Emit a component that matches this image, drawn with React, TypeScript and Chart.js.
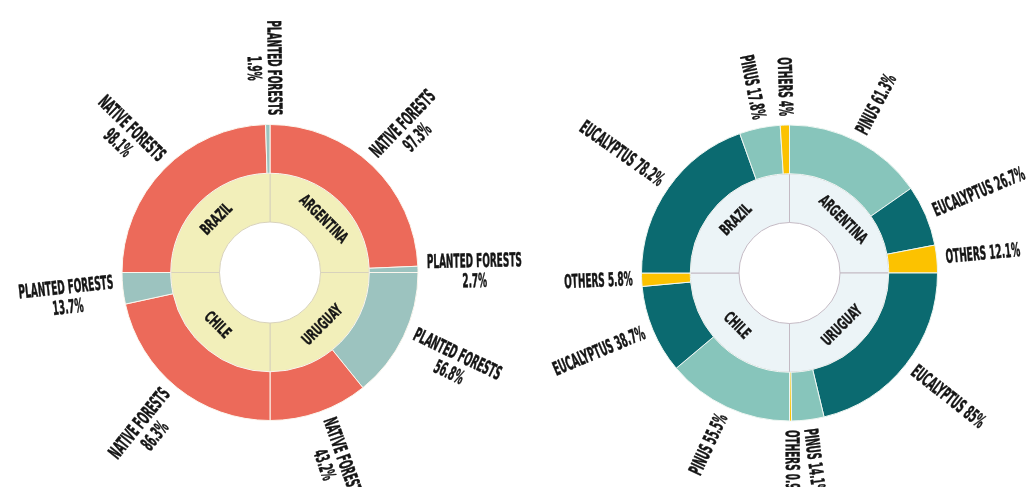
import { useEffect, useRef } from "react";
import { Chart, registerables } from "chart.js";

Chart.register(...registerables);

// Countries, clockwise from 12 o'clock
const countries = ["ARGENTINA", "URUGUAY", "CHILE", "BRAZIL"];

// Forest cover: share of each country's forest area (%)
const coverCountry = ["ARGENTINA", "ARGENTINA", "URUGUAY", "URUGUAY", "CHILE", "CHILE", "BRAZIL", "BRAZIL"];
const coverType = [
  "NATIVE FORESTS", "PLANTED FORESTS",
  "PLANTED FORESTS", "NATIVE FORESTS",
  "NATIVE FORESTS", "PLANTED FORESTS",
  "NATIVE FORESTS", "PLANTED FORESTS",
];
const coverShare = [97.3, 2.7, 56.8, 43.2, 86.3, 13.7, 98.1, 1.9];

// Planted forests by genus: share of each country's plantations (%)
const speciesCountry = [
  "ARGENTINA", "ARGENTINA", "ARGENTINA",
  "URUGUAY", "URUGUAY", "URUGUAY",
  "CHILE", "CHILE", "CHILE",
  "BRAZIL", "BRAZIL", "BRAZIL",
];
const speciesType = [
  "PINUS", "EUCALYPTUS", "OTHERS",
  "EUCALYPTUS", "PINUS", "OTHERS",
  "PINUS", "EUCALYPTUS", "OTHERS",
  "EUCALYPTUS", "PINUS", "OTHERS",
];
const speciesShare = [61.3, 26.7, 12.1, 85, 14.1, 0.9, 55.5, 38.7, 5.8, 78.2, 17.8, 4];

const coverColors: Record<string, string> = {
  "NATIVE FORESTS": "#EC6A5A",
  "PLANTED FORESTS": "#9CC3BF",
};
const speciesColors: Record<string, string> = {
  EUCALYPTUS: "#0B6A70",
  PINUS: "#87C5BB",
  OTHERS: "#FCC200",
};

const LABEL_FONT = '"Liberation Sans Narrow", "DejaVu Sans Condensed", "Roboto", sans-serif';
const TEXT_COLOR = "#151515";
const OUTER_R = 148;
const HOLE_R = 50.5;

// Each country gets an equal quarter; its segments split that quarter by share.
function normalise(owner: string[], share: number[]) {
  const totals: Record<string, number> = {};
  owner.forEach((c, i) => (totals[c] = (totals[c] || 0) + share[i]));
  return share.map((v, i) => (v / totals[owner[i]]) * (100 / countries.length));
}

type SunburstSpec = {
  owner: string[];
  types: string[];
  shares: number[];
  colors: Record<string, string>;
  innerFill: string;
  innerBorder: string;
  outerBorder: string;
  twoLine: boolean;
  padding: { left: number; right: number; top: number; bottom: number };
};

// condensed, heavy lettering: squeeze horizontally and thicken with a light stroke
function heavyText(ctx: CanvasRenderingContext2D, text: string, x: number, y: number, sx: number) {
  ctx.save();
  ctx.translate(x, y);
  ctx.scale(sx, 1);
  ctx.strokeText(text, 0, 0);
  ctx.fillText(text, 0, 0);
  ctx.restore();
}

const sunburstLabels = {
  id: "sunburstLabels",
  afterDatasetsDraw(chart: any, _args: any, opts: any) {
    const ctx: CanvasRenderingContext2D = chart.ctx;
    const outer = chart.getDatasetMeta(0);
    const inner = chart.getDatasetMeta(1);
    const lines: string[][] = opts.lines;

    ctx.save();
    ctx.fillStyle = TEXT_COLOR;
    ctx.strokeStyle = TEXT_COLOR;
    ctx.lineJoin = "round";
    ctx.textBaseline = "middle";
    ctx.textAlign = "center";

    // segment labels, laid along the radius outside the ring
    ctx.font = `bold 19px ${LABEL_FONT}`;
    ctx.lineWidth = 0.5;
    const sx = 95 / ctx.measureText("PLANTED FORESTS").width;
    outer.data.forEach((arc: any, i: number) => {
      const a = (arc.startAngle + arc.endAngle) / 2;
      const right = Math.cos(a) >= 0;
      const text = lines[i];
      const r0 = arc.outerRadius + 9;
      const w1 = ctx.measureText(text[0]).width * sx;
      const cx = right ? r0 + w1 / 2 : -(r0 + w1 / 2);
      ctx.save();
      ctx.translate(arc.x, arc.y);
      ctx.rotate(right ? a : a + Math.PI);
      text.forEach((t, k) => {
        const ly = text.length === 1 ? 0 : k === 0 ? -6 : 14;
        heavyText(ctx, t, cx, ly, sx);
      });
      ctx.restore();
    });

    // country names, along the inner ring
    ctx.font = `bold 16px ${LABEL_FONT}`;
    ctx.lineWidth = 0.4;
    const sxi = 61 / ctx.measureText("ARGENTINA").width;
    inner.data.forEach((arc: any, i: number) => {
      const a = (arc.startAngle + arc.endAngle) / 2;
      const r = (arc.innerRadius + arc.outerRadius) / 2;
      ctx.save();
      ctx.translate(arc.x + r * Math.cos(a), arc.y + r * Math.sin(a));
      ctx.rotate(Math.sin(a) < 0 ? a + Math.PI / 2 : a - Math.PI / 2);
      heavyText(ctx, countries[i], 0, 0, sxi);
      ctx.restore();
    });
    ctx.restore();
  },
};

function buildSunburst(canvas: HTMLCanvasElement, spec: SunburstSpec) {
  const values = normalise(spec.owner, spec.shares);
  const lines = spec.types.map((t, i) =>
    spec.twoLine ? [t, `${spec.shares[i]}%`] : [`${t} ${spec.shares[i]}%`]
  );
  return new Chart(canvas, {
    type: "doughnut",
    data: {
      labels: spec.types,
      datasets: [
        {
          data: values,
          backgroundColor: spec.types.map((t) => spec.colors[t]),
          borderColor: spec.outerBorder,
          borderWidth: 1,
          hoverOffset: 0,
        },
        {
          data: countries.map(() => 1),
          backgroundColor: spec.innerFill,
          borderColor: spec.innerBorder,
          borderWidth: 1,
          hoverOffset: 0,
        },
      ],
    },
    options: {
      responsive: false,
      maintainAspectRatio: false,
      animation: false,
      events: [],
      radius: OUTER_R,
      cutout: `${(HOLE_R / OUTER_R) * 100}%`,
      layout: { padding: spec.padding },
      plugins: {
        legend: { display: false },
        tooltip: { enabled: false },
        sunburstLabels: { lines },
      } as any,
    },
    plugins: [sunburstLabels],
  });
}

export default function App() {
  const coverRef = useRef<HTMLCanvasElement>(null);
  const speciesRef = useRef<HTMLCanvasElement>(null);

  useEffect(() => {
    const cover = buildSunburst(coverRef.current!, {
      owner: coverCountry,
      types: coverType,
      shares: coverShare,
      colors: coverColors,
      innerFill: "#F2EFBA",
      innerBorder: "#D8D2BC",
      outerBorder: "#FBF6EE",
      twoLine: true,
      padding: { left: 0, right: 60, top: 58, bottom: 0 },
    });
    const species = buildSunburst(speciesRef.current!, {
      owner: speciesCountry,
      types: speciesType,
      shares: speciesShare,
      colors: speciesColors,
      innerFill: "#ECF4F7",
      innerBorder: "#C4BAC4",
      outerBorder: "#EEF6F2",
      twoLine: false,
      padding: { left: 76, right: 0, top: 59, bottom: 0 },
    });
    return () => {
      cover.destroy();
      species.destroy();
    };
  }, []);

  return (
    <div style={{ position: "fixed", left: 0, top: 0, width: 1033, height: 487, background: "#ffffff", overflow: "hidden" }}>
      <canvas ref={coverRef} width={600} height={487} style={{ position: "absolute", left: 0, top: 0 }} />
      <canvas ref={speciesRef} width={563} height={487} style={{ position: "absolute", left: 470, top: 0 }} />
    </div>
  );
}
